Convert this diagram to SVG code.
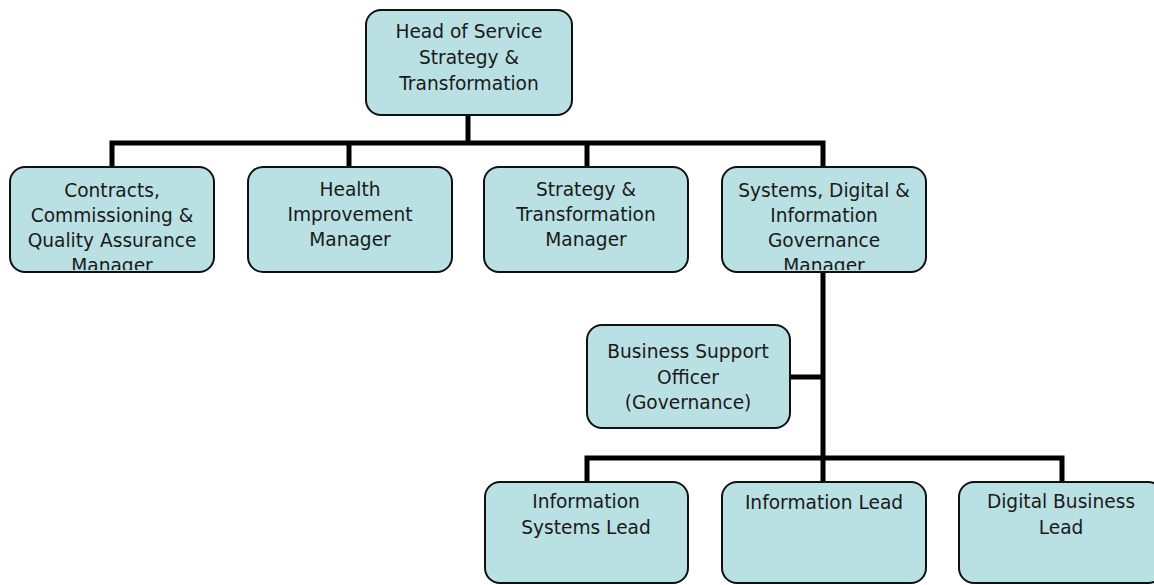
<svg xmlns="http://www.w3.org/2000/svg" width="1154" height="585" viewBox="0 0 1154 585">
  <style>
    .box { fill: #b9e0e3; stroke: #111; stroke-width: 2; }
    .lbl { font-family: "DejaVu Sans", "Verdana", sans-serif; font-size: 18.6px; fill: #1a1a1a; text-anchor: middle; }
    .wire { fill: none; stroke: #000; stroke-width: 5; stroke-linejoin: miter; }
  </style>
  <defs>
    <clipPath id="clip-cc"><rect x="11" y="168" width="202" height="102" rx="14"/></clipPath>
    <clipPath id="clip-sdig"><rect x="723" y="168" width="202" height="102" rx="14"/></clipPath>
  </defs>
  <rect width="1154" height="585" fill="#fff"/>

  <!-- reporting lines -->
  <g id="connectors" class="wire">
    <path d="M468,115 V143"/>
    <path d="M112,167 V143 H823 V167"/>
    <path d="M349,143 V167"/>
    <path d="M587,143 V167"/>
    <path d="M823,272 V482"/>
    <path d="M790,377 H823"/>
    <path d="M587,482 V458 H1062 V482"/>
  </g>

  <g id="head">
    <rect class="box" x="366" y="10" width="206" height="105" rx="15"/>
    <text class="lbl" x="469" y="38">Head of Service</text>
    <text class="lbl" x="469" y="64">Strategy &amp;</text>
    <text class="lbl" x="469" y="90">Transformation</text>
  </g>

  <g id="contracts">
    <rect class="box" x="10" y="167" width="204" height="105" rx="15"/>
    <g clip-path="url(#clip-cc)">
      <text class="lbl" x="112" y="197">Contracts,</text>
      <text class="lbl" x="112" y="222">Commissioning &amp;</text>
      <text class="lbl" x="112" y="247">Quality Assurance</text>
      <text class="lbl" x="112" y="272">Manager</text>
    </g>
  </g>

  <g id="health">
    <rect class="box" x="248" y="167" width="204" height="105" rx="15"/>
    <text class="lbl" x="350" y="196">Health</text>
    <text class="lbl" x="350" y="221">Improvement</text>
    <text class="lbl" x="350" y="246">Manager</text>
  </g>

  <g id="strategy">
    <rect class="box" x="484" y="167" width="204" height="105" rx="15"/>
    <text class="lbl" x="586" y="196">Strategy &amp;</text>
    <text class="lbl" x="586" y="221">Transformation</text>
    <text class="lbl" x="586" y="246">Manager</text>
  </g>

  <g id="sdig">
    <rect class="box" x="722" y="167" width="204" height="105" rx="15"/>
    <g clip-path="url(#clip-sdig)">
      <text class="lbl" x="824" y="197">Systems, Digital &amp;</text>
      <text class="lbl" x="824" y="222">Information</text>
      <text class="lbl" x="824" y="247">Governance</text>
      <text class="lbl" x="824" y="272">Manager</text>
    </g>
  </g>

  <g id="bso">
    <rect class="box" x="587" y="325" width="203" height="103" rx="15"/>
    <text class="lbl" x="688" y="358">Business Support</text>
    <text class="lbl" x="688" y="384">Officer</text>
    <text class="lbl" x="688" y="409">(Governance)</text>
  </g>

  <g id="info-systems">
    <rect class="box" x="485" y="482" width="203" height="101" rx="15"/>
    <text class="lbl" x="586" y="508">Information</text>
    <text class="lbl" x="586" y="534">Systems Lead</text>
  </g>

  <g id="info-lead">
    <rect class="box" x="722" y="482" width="204" height="101" rx="15"/>
    <text class="lbl" x="824" y="509">Information Lead</text>
  </g>

  <g id="digital">
    <rect class="box" x="959" y="482" width="204" height="101" rx="15"/>
    <text class="lbl" x="1061" y="508">Digital Business</text>
    <text class="lbl" x="1061" y="534">Lead</text>
  </g>
</svg>
